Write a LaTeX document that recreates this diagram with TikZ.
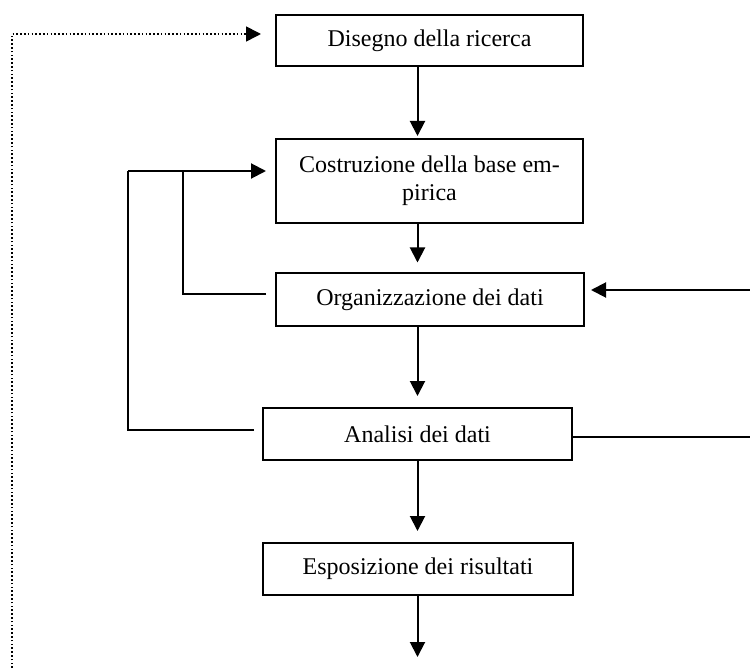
\documentclass[tikz,border=0pt]{standalone}
\usepackage{fontspec}
\setmainfont{Liberation Serif}
\usetikzlibrary{arrows.meta}

\begin{document}
\begin{tikzpicture}[x=1pt,y=-1pt,
  box/.style={draw,line width=2pt,inner sep=0pt,align=center,font=\fontsize{24}{27.6}\selectfont},
  link/.style={line width=2pt},
  arr/.style={link,-{Triangle[length=15pt,width=15pt]}},
  dotline/.style={line width=1.6pt,dash pattern=on 1.6pt off 2.2pt,-{Triangle[length=15pt,width=15pt]}}]
\useasboundingbox (0,0) rectangle (750,671);
\node[box,minimum width=307pt,minimum height=51pt] (dis) at (429.5,40.5) {Disegno della ricerca};
\node[box,minimum width=307pt,minimum height=84pt] (cos) at (429.5,181) {Costruzione della base em-\\pirica};
\node[box,minimum width=308pt,minimum height=52pt] (org) at (430,299.5) {Organizzazione dei dati};
\node[box,minimum width=309pt,minimum height=52pt] (ana) at (417.5,434) {Analisi dei dati};
\node[box,minimum width=310pt,minimum height=52pt] (esp) at (418,569) {Esposizione dei risultati};
\coordinate (jA) at (183,171);
\coordinate (jB) at (128,171);
\coordinate (rin) at (750,290);
\coordinate (rout) at (750,437);
\coordinate (out) at (417.5,657);
\coordinate (dstart) at (12,668);
\draw [arr, shorten >=2pt] (dis.south -| ana.center) -- (cos.north -| ana.center);
\draw [arr, shorten >=10pt] (cos.south -| ana.center) -- (org.north -| ana.center);
\draw [arr, shorten >=11pt] (org.south -| ana.center) -- (ana.north);
\draw [arr, shorten >=11pt] (ana.south) -- (esp.north -| ana.center);
\draw [arr] (esp.south -| ana.center) -- (out);
\draw [link] ([xshift=-9pt,yshift=5.5pt]org.west) -| (jA);
\draw [link] ([xshift=-8pt,yshift=4pt]ana.west) -| (jB);
\draw [arr] (jB) -- ([xshift=-9pt,yshift=10pt]cos.west);
\draw [arr] (rin) -- ([xshift=6pt]org.east |- rin);
\draw [link] (ana.east |- rout) -- (rout);
\draw [dotline] (dstart) |- ([xshift=-14pt,yshift=6.5pt]dis.west);
\end{tikzpicture}
\end{document}
